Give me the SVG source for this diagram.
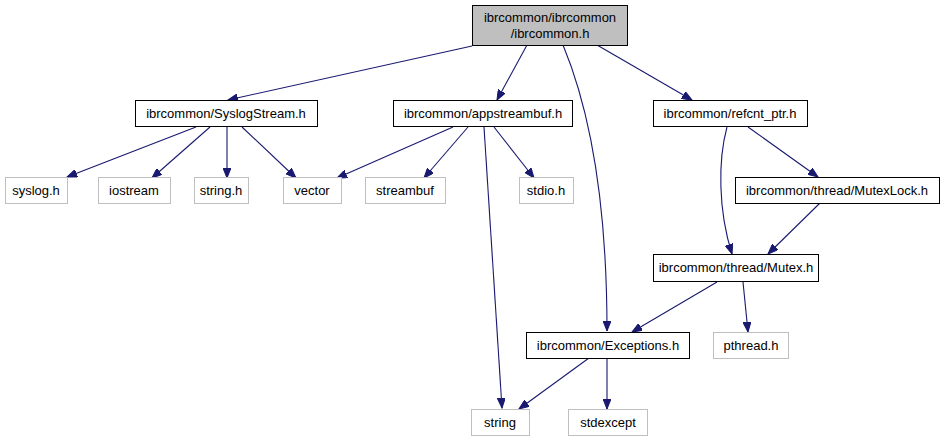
<svg xmlns="http://www.w3.org/2000/svg" width="944" height="443" viewBox="0 0 944 443">
<defs>
<style>
.n rect{fill:#fff;stroke:#000;stroke-width:1}
.n.root rect{fill:#bfbfbf}
.n.ext rect{stroke:#bfbfbf}
.n text{font-family:"Liberation Sans",Arial,sans-serif;font-size:13px;text-anchor:middle;fill:#000}
#edges path{fill:none;stroke:#191970;stroke-width:1.1}
</style>
<marker id="ah" markerUnits="userSpaceOnUse" markerWidth="11" markerHeight="8" refX="10" refY="4" orient="auto">
<path d="M0,0 L10,4 L0,8 z" fill="#191970" stroke="#191970"/>
</marker>
</defs>
<rect width="944" height="443" fill="#fff"/>
<g id="edges">
<path d="M472,46 L228,100" marker-end="url(#ah)"/>
<path d="M527,45 L497,100" marker-end="url(#ah)"/>
<path d="M563,45 C590,110 607,200 607,331" marker-end="url(#ah)"/>
<path d="M597,45 L692,100" marker-end="url(#ah)"/>
<path d="M196,127 L67,177" marker-end="url(#ah)"/>
<path d="M210,127 L152,178" marker-end="url(#ah)"/>
<path d="M227,127 L227,178" marker-end="url(#ah)"/>
<path d="M242,127 L296,178" marker-end="url(#ah)"/>
<path d="M453,127 L337,178" marker-end="url(#ah)"/>
<path d="M468,127 L424,178" marker-end="url(#ah)"/>
<path d="M494,127 L534,178" marker-end="url(#ah)"/>
<path d="M484,127 L502,408" marker-end="url(#ah)"/>
<path d="M727,127 C718,160 718,210 732,254" marker-end="url(#ah)"/>
<path d="M748,127 L818,177" marker-end="url(#ah)"/>
<path d="M820,203 L768,254" marker-end="url(#ah)"/>
<path d="M717,282 L632,332" marker-end="url(#ah)"/>
<path d="M743,282 L748,332" marker-end="url(#ah)"/>
<path d="M589,358 L519,409" marker-end="url(#ah)"/>
<path d="M607,358 L607,409" marker-end="url(#ah)"/>
</g>
<g id="root" class="n root"><rect x="472.5" y="5.5" width="155" height="40"/><text x="550" y="22">ibrcommon/ibrcommon</text><text x="550" y="38">/ibrcommon.h</text></g>
<g id="syslogstream" class="n"><rect x="135.5" y="100.5" width="182" height="26"/><text x="226" y="118">ibrcommon/SyslogStream.h</text></g>
<g id="appstreambuf" class="n"><rect x="393.5" y="100.5" width="179" height="26"/><text x="483" y="118">ibrcommon/appstreambuf.h</text></g>
<g id="refcnt" class="n"><rect x="653.5" y="100.5" width="154" height="26"/><text x="730" y="118">ibrcommon/refcnt_ptr.h</text></g>
<g id="syslog" class="n ext"><rect x="5.5" y="177.5" width="62" height="26"/><text x="36" y="195">syslog.h</text></g>
<g id="iostream" class="n ext"><rect x="98.5" y="177.5" width="72" height="26"/><text x="134" y="195">iostream</text></g>
<g id="stringh" class="n ext"><rect x="194.5" y="177.5" width="54" height="26"/><text x="221" y="195">string.h</text></g>
<g id="vector" class="n ext"><rect x="283.5" y="177.5" width="58" height="26"/><text x="312" y="195">vector</text></g>
<g id="streambuf" class="n ext"><rect x="365.5" y="177.5" width="80" height="26"/><text x="405" y="195">streambuf</text></g>
<g id="stdio" class="n ext"><rect x="519.5" y="177.5" width="54" height="26"/><text x="546" y="195">stdio.h</text></g>
<g id="mutexlock" class="n"><rect x="735.5" y="177.5" width="204" height="26"/><text x="837" y="195">ibrcommon/thread/MutexLock.h</text></g>
<g id="mutex" class="n"><rect x="653.5" y="254.5" width="165" height="27"/><text x="736" y="272">ibrcommon/thread/Mutex.h</text></g>
<g id="exceptions" class="n"><rect x="526.5" y="332.5" width="163" height="26"/><text x="608" y="350">ibrcommon/Exceptions.h</text></g>
<g id="pthread" class="n ext"><rect x="713.5" y="332.5" width="75" height="26"/><text x="751" y="350">pthread.h</text></g>
<g id="string" class="n ext"><rect x="471.5" y="409.5" width="58" height="26"/><text x="500" y="427">string</text></g>
<g id="stdexcept" class="n ext"><rect x="568.5" y="409.5" width="79" height="26"/><text x="608" y="427">stdexcept</text></g>
</svg>
